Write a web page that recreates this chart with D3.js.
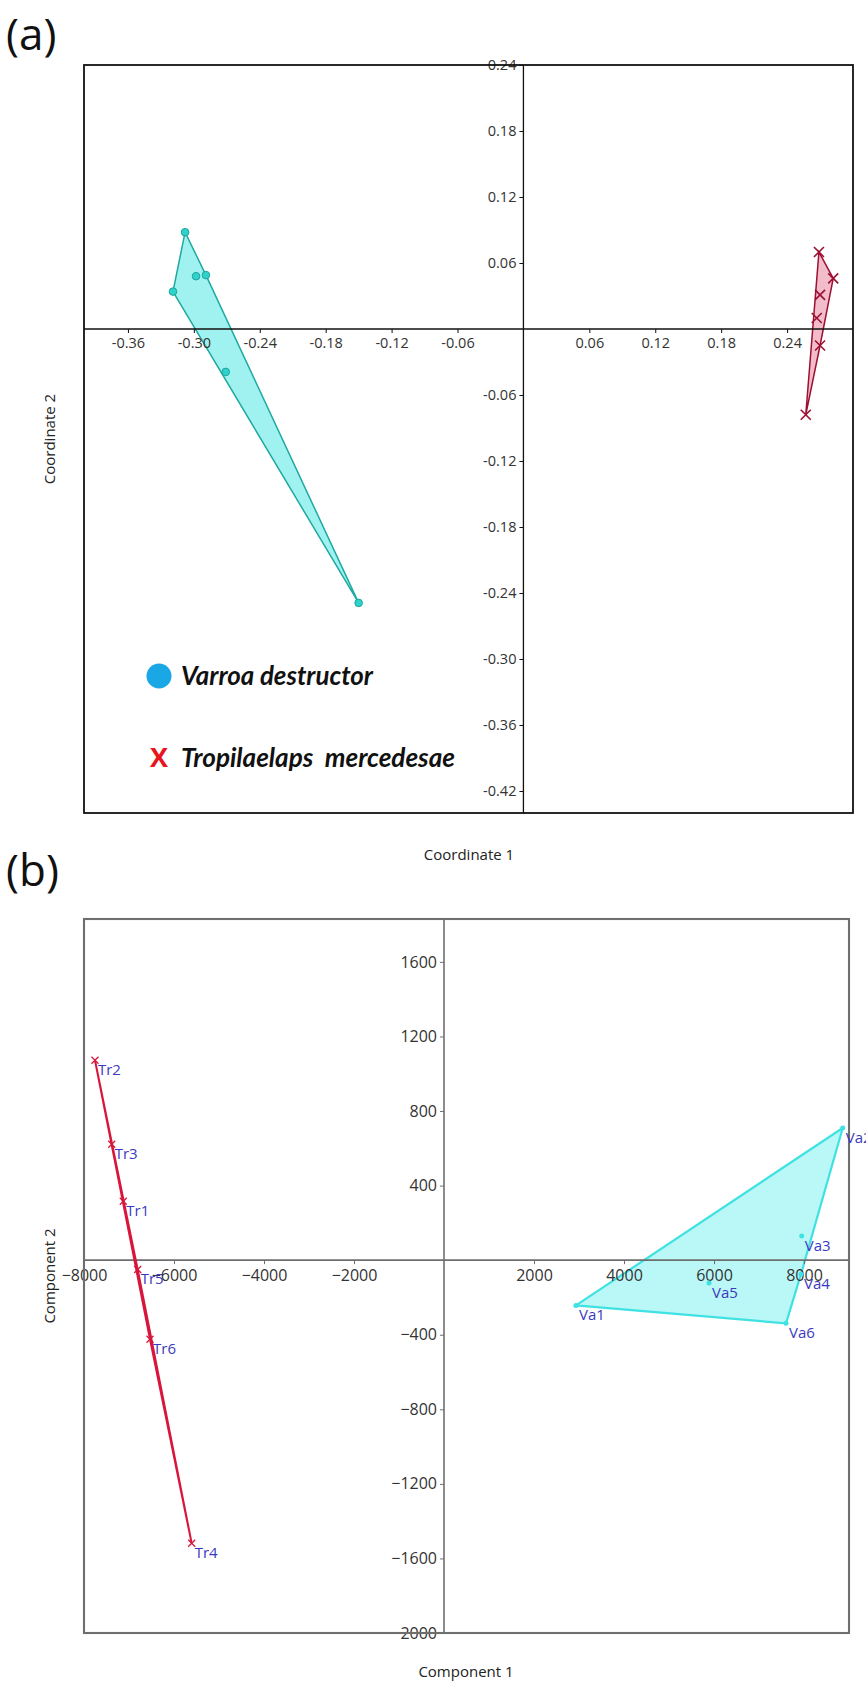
<!DOCTYPE html>
<html>
<head>
<meta charset="utf-8">
<script src="https://cdn.jsdelivr.net/npm/d3@7"></script>
<style>
  body { margin: 0; background: #fff; overflow: hidden; }
  svg { display: block; }
  .tick text { font-family: "Open Sans", sans-serif; fill: #333; }
  .lbl { font-family: "Open Sans", sans-serif; fill: #3a3ac0; font-size: 15px; }
</style>
</head>
<body>
<svg id="fig" width="866" height="1683"></svg>
<script>
// panel (a) - PCoA, coordinates
var varroaX = [-0.308, -0.298, -0.289, -0.319, -0.271, -0.150];
var varroaY = [0.088, 0.048, 0.049, 0.034, -0.039, -0.249];
var tropX = [0.269, 0.282, 0.270, 0.267, 0.270, 0.257];
var tropY = [0.070, 0.046, 0.031, 0.010, -0.015, -0.078];
var aTicksX = [-0.36, -0.30, -0.24, -0.18, -0.12, -0.06, 0.06, 0.12, 0.18, 0.24];
var aTicksY = [0.24, 0.18, 0.12, 0.06, -0.06, -0.12, -0.18, -0.24, -0.30, -0.36, -0.42];
var legendNames = ["Varroa destructor", "Tropilaelaps  mercedesae"];

// panel (b) - PCA
var trLabels = ["Tr1", "Tr2", "Tr3", "Tr4", "Tr5", "Tr6"];
var trX = [-7127, -7756, -7384, -5607, -6807, -6533];
var trY = [316, 1072, 622, -1519, -50, -424];
var vaLabels = ["Va1", "Va2", "Va3", "Va4", "Va5", "Va6"];
var vaX = [2933, 8860, 7949, 7933, 5889, 7600];
var vaY = [-243, 709, 129, -75, -123, -339];
var bTicksX = [-8000, -6000, -4000, -2000, 2000, 4000, 6000, 8000];
var bTicksY = [1600, 1200, 800, 400, -400, -800, -1200, -1600, -2000];

var svg = d3.select('#fig');

function fmt2(v) { return d3.format('.2f')(v).replace('\u2212', '-'); }

// draws crossing axes through zero
function crossAxes(g, x, y, tx, ty, fmt, fs, col, w) {
    let xa = d3.axisBottom(x).tickValues(tx).tickSize(4).tickPadding(5).tickFormat(fmt);
    let ya = d3.axisLeft(y).tickValues(ty).tickSize(4).tickPadding(3).tickFormat(fmt);
    let gx = g.append('g').attr('transform', 'translate(0,' + y(0) + ')').call(xa);
    let gy = g.append('g').attr('transform', 'translate(' + x(0) + ',0)').call(ya);
    [gx, gy].forEach(a => {
        a.select('.domain').remove();
        a.selectAll('line').attr('stroke', col).attr('stroke-width', 1);
        a.selectAll('text').style('font-size', fs + 'px');
    });
    g.append('line')
        .attr('x1', x.range()[0]).attr('x2', x.range()[1])
        .attr('y1', y(0)).attr('y2', y(0))
        .attr('stroke', col).attr('stroke-width', w);
    g.append('line')
        .attr('x1', x(0)).attr('x2', x(0))
        .attr('y1', y.range()[0]).attr('y2', y.range()[1])
        .attr('stroke', col).attr('stroke-width', w);
    g.append('rect')
        .attr('x', x.range()[0]).attr('y', y.range()[1])
        .attr('width', x.range()[1] - x.range()[0])
        .attr('height', y.range()[0] - y.range()[1])
        .attr('fill', 'none').attr('stroke', col).attr('stroke-width', w + 0.5);
}

function xMark(g, px, py, r, col, sw) {
    g.append('path')
        .attr('d', 'M' + (px - r) + ',' + (py - r) + 'L' + (px + r) + ',' + (py + r) +
                   'M' + (px - r) + ',' + (py + r) + 'L' + (px + r) + ',' + (py - r))
        .attr('stroke', col).attr('stroke-width', sw).attr('fill', 'none');
}

// ---------- (a)
let xa = d3.scaleLinear().domain([-0.40, 0.30]).range([84, 853]);
let ya = d3.scaleLinear().domain([-0.44, 0.24]).range([813, 65]);
let ga = svg.append('g');

let vPts = varroaX.map((v, i) => [xa(v), ya(varroaY[i])]);
let tPts = tropX.map((v, i) => [xa(v), ya(tropY[i])]);
ga.append('path')
    .attr('d', 'M' + d3.polygonHull(vPts).join('L') + 'Z')
    .attr('fill', '#9ff2f0').attr('stroke', '#1fa9a0').attr('stroke-width', 1.5);
ga.append('path')
    .attr('d', 'M' + d3.polygonHull(tPts).join('L') + 'Z')
    .attr('fill', '#f3bccb').attr('stroke', '#9c1030').attr('stroke-width', 1.5);

crossAxes(ga, xa, ya, aTicksX, aTicksY, fmt2, 14.5, '#111', 1.3);

ga.selectAll('circle.vd').data(vPts).enter()
    .append('circle').attr('class', 'vd')
    .attr('cx', d => d[0]).attr('cy', d => d[1]).attr('r', 3.8)
    .attr('fill', '#2fd2ca').attr('stroke', '#1aa59d').attr('stroke-width', 1);
tPts.forEach(p => xMark(ga, p[0], p[1], 5, '#9c1030', 1.6));

ga.append('text').attr('x', 469).attr('y', 860).attr('text-anchor', 'middle')
    .style('font-family', 'Open Sans, sans-serif').style('font-size', '15px').attr('fill', '#222')
    .text('Coordinate 1');
ga.append('text').attr('transform', 'translate(55,439) rotate(-90)').attr('text-anchor', 'middle')
    .style('font-family', 'Open Sans, sans-serif').style('font-size', '15px').attr('fill', '#222')
    .text('Coordinate 2');

// legend
ga.append('circle').attr('cx', 159).attr('cy', 676).attr('r', 12.5).attr('fill', '#1aa7e6');
ga.append('text').attr('x', 159).attr('y', 767).attr('text-anchor', 'middle')
    .style('font-family', 'Open Sans, sans-serif').style('font-weight', 'bold').style('font-size', '27px')
    .attr('fill', '#e8141e').text('X');
ga.selectAll('text.leg').data(legendNames).enter()
    .append('text').attr('class', 'leg')
    .attr('x', 181).attr('y', (d, i) => i == 0 ? 685 : 767)
    .attr('textLength', (d, i) => i == 0 ? 192 : 274)
    .attr('lengthAdjust', 'spacingAndGlyphs')
    .style('white-space', 'pre')
    .style('font-family', 'Lato, sans-serif').style('font-weight', 'bold').style('font-style', 'italic')
    .style('font-size', '27px').attr('fill', '#111')
    .text(d => d);

svg.append('text').attr('x', 6).attr('y', 50)
    .style('font-family', 'Open Sans, sans-serif').style('font-size', '44px').attr('fill', '#111')
    .text('(a)');

// ---------- (b)
let xb = d3.scaleLinear().domain([-8000, 9000]).range([84, 849]);
let yb = d3.scaleLinear().domain([-2000, 1830]).range([1633, 919]);
let gb = svg.append('g');

let trPts = trX.map((v, i) => [xb(v), yb(trY[i])]);
let vaPts = vaX.map((v, i) => [xb(v), yb(vaY[i])]);
gb.append('path')
    .attr('d', 'M' + d3.polygonHull(vaPts).join('L') + 'Z')
    .attr('fill', '#baf7f7').attr('stroke', '#3fe2e2').attr('stroke-width', 2.2);

crossAxes(gb, xb, yb, bTicksX, bTicksY, d3.format('d'), 16, '#6e6e6e', 1.6);

gb.append('path')
    .attr('d', 'M' + d3.polygonHull(trPts).join('L') + 'Z')
    .attr('fill', '#f3a0b4').attr('stroke', '#d8163c').attr('stroke-width', 2);

gb.selectAll('circle.va').data(vaPts).enter()
    .append('circle').attr('class', 'va')
    .attr('cx', d => d[0]).attr('cy', d => d[1]).attr('r', 2.5)
    .attr('fill', '#3fe2e2');
trPts.forEach(p => xMark(gb, p[0], p[1], 3.5, '#d8163c', 1.3));

gb.selectAll('text.tr').data(trPts).enter()
    .append('text').attr('class', 'lbl')
    .attr('x', d => d[0] + 3).attr('y', d => d[1] + 15)
    .text((d, i) => trLabels[i]);
gb.selectAll('text.va').data(vaPts).enter()
    .append('text').attr('class', 'lbl')
    .attr('x', d => d[0] + 3).attr('y', d => d[1] + 15)
    .text((d, i) => vaLabels[i]);

gb.append('text').attr('x', 466).attr('y', 1677).attr('text-anchor', 'middle')
    .style('font-family', 'Open Sans, sans-serif').style('font-size', '15px').attr('fill', '#222')
    .text('Component 1');
gb.append('text').attr('transform', 'translate(55,1276) rotate(-90)').attr('text-anchor', 'middle')
    .style('font-family', 'Open Sans, sans-serif').style('font-size', '15px').attr('fill', '#222')
    .text('Component 2');

svg.append('text').attr('x', 6).attr('y', 886)
    .style('font-family', 'Open Sans, sans-serif').style('font-size', '44px').attr('fill', '#111')
    .text('(b)');
</script>
</body>
</html>
